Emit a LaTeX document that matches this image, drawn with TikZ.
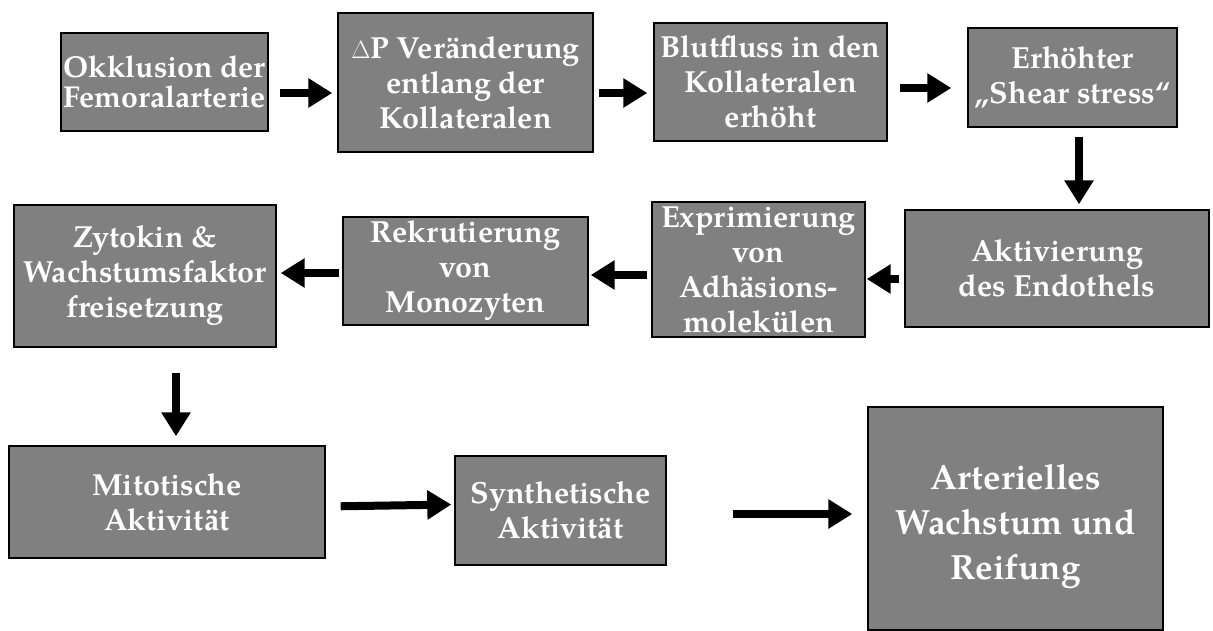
\documentclass[tikz,border=0pt]{standalone}
\usepackage{fontspec}
\setmainfont{texgyrepagella}[Extension=.otf, UprightFont=*-regular, BoldFont=*-bold]
\usetikzlibrary{arrows.meta}
\definecolor{boxgray}{RGB}{128,128,128}
\tikzset{
  box/.style={draw=black, line width=1.4pt, fill=boxgray, text=white, inner sep=0pt,
    align=center, font=\fontsize{30.5}{35}\selectfont\bfseries},
  arr/.style={line width=8pt, -{Triangle[length=24pt,width=28pt]}},
}
\begin{document}
\begin{tikzpicture}[x=1pt,y=-1pt]
\useasboundingbox (0,0) rectangle (1213,631);
% row 1
\node[box, minimum width=207pt, minimum height=98pt, font=\fontsize{30.2}{30}\selectfont\bfseries] (n1) at (164.5,82) {Okklusion der\\Femoralarterie};
\node[box, minimum width=255pt, minimum height=139pt] (n2) at (465.5,82.5) {$\Delta$P Veränderung\\entlang der\\Kollateralen};
\node[box, minimum width=233pt, minimum height=118pt] (n3) at (770.5,82) {Blutfluss in den\\Kollateralen\\erhöht};
\node[box, minimum width=209pt, minimum height=99pt] (n4) at (1072.5,77.5) {Erhöhter\\„Shear stress“};
% row 2
\node[box, minimum width=304pt, minimum height=117pt] (n5) at (1057,268.5) {Aktivierung\\des Endothels};
\node[box, minimum width=213pt, minimum height=135pt] (n6) at (758.5,269.5) {Exprimierung\\von\\Adhäsions-\\molekülen};
\node[box, minimum width=245pt, minimum height=108pt] (n7) at (465.5,271) {Rekrutierung\\von\\Monozyten};
\node[box, minimum width=262pt, minimum height=142pt] (n8) at (145,276) {Zytokin \&\\Wachstumsfaktor\\freisetzung};
% row 3
\node[box, minimum width=316pt, minimum height=112pt] (n9) at (167,502) {Mitotische\\Aktivität};
\node[box, minimum width=211pt, minimum height=109pt] (n10) at (560.5,510.5) {Synthetische\\Aktivität};
\node[box, minimum width=295pt, minimum height=223pt, font=\fontsize{35}{45}\selectfont\bfseries] (n11) at (1015.5,518.5) {\rule{0pt}{41pt}Arterielles\\Wachstum und\\Reifung};
% arrows
\draw[arr, shorten <=11pt, shorten >=5pt] ([yshift=-11pt]n1.east) -- ([yshift=-10.5pt]n2.west);
\draw[arr, shorten <=5pt, shorten >=6pt] ([yshift=-10.5pt]n2.east) -- ([yshift=-11pt]n3.west);
\draw[arr, shorten <=12pt, shorten >=16pt] ([yshift=-6pt]n3.east) -- ([yshift=-10.5pt]n4.west);
\draw[arr, shorten <=9pt, shorten >=5pt] ([xshift=6.5pt]n4.south) -- ([xshift=22pt]n5.north);
\draw[arr, shorten <=5pt, shorten >=1pt] ([yshift=-10.5pt]n5.west) -- ([yshift=-9.5pt]n6.east);
\draw[arr, shorten <=4pt, shorten >=2pt] ([yshift=-5.5pt]n6.west) -- ([yshift=-4pt]n7.east);
\draw[arr, shorten <=3pt, shorten >=4pt] ([yshift=-2pt]n7.west) -- ([yshift=3pt]n8.east);
\draw[arr, shorten <=25pt, shorten >=9pt] ([xshift=31pt]n8.south) -- ([xshift=9pt]n9.north);
\draw[arr, shorten <=15pt, shorten >=3pt] ([yshift=-4.5pt]n9.east) -- ([yshift=6pt]n10.west);
\draw[arr, shorten <=66pt, shorten >=15pt] ([yshift=-3.5pt]n10.east) -- ([yshift=4.5pt]n11.west);
\end{tikzpicture}
\end{document}
